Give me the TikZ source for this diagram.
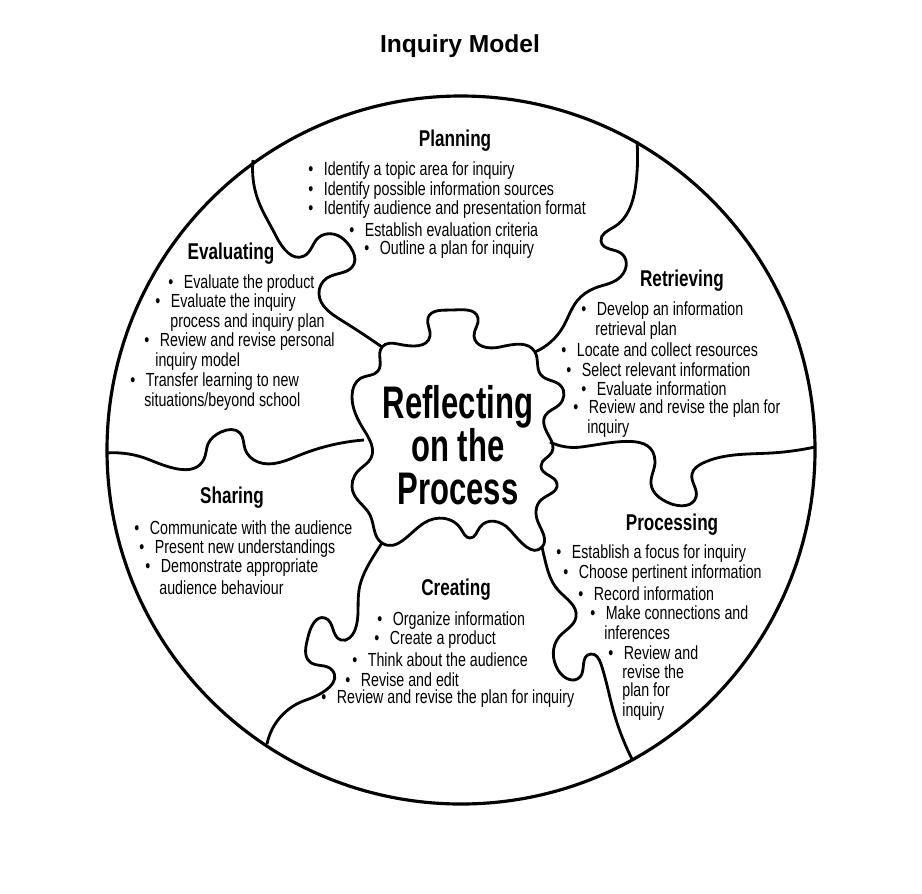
\documentclass[tikz,border=0pt]{standalone}
\usepackage{fontspec}
\setmainfont{Liberation Sans}
\newfontfamily\narrowfont[FakeStretch=0.75]{Liberation Sans}
\newfontfamily\bignarrow[FakeStretch=0.68]{Liberation Sans}
\usetikzlibrary{hobby}
\newcommand{\bul}{\textbullet\hspace{6pt}}
\tikzset{
	piece/.style={line width=1.6pt, black, use Hobby shortcut},
	item/.style={anchor=west, inner sep=0pt, font=\narrowfont\fontsize{10.8}{12}\selectfont},
	heading/.style={inner sep=0pt, font=\narrowfont\bfseries\fontsize{13}{14}\selectfont}
}
\begin{document}
\begin{tikzpicture}[x=0.02cm, y=-0.02cm]
		\useasboundingbox (0,0) rectangle (922,893);
		\node[font=\bfseries\fontsize{14}{16}\selectfont] (title) at (460,46) {Inquiry Model};
		\draw[line width=1.8pt] (461,450) circle[radius=354];
		% centre piece
		\draw[piece, closed] (382,347) .. (398,344) .. (430,336) .. (428,318) .. (452,310) .. (478,318) .. (474,336) .. (500,347) .. (535,352) .. (541,375) .. (561,386) .. (559,405) .. (545,416) .. (550,438) .. (552,452) .. (541,466) .. (557,484) .. (541,500) .. (538,522) .. (542,547) .. (510,530) .. (480,527) .. (470,538) .. (461,529) .. (424,523) .. (382,543) .. (370,515) .. (353,492) .. (358,471) .. (371,458) .. (364,430) .. (352,396) .. (361,378) .. (378,371);
		\node[font=\bignarrow\bfseries\fontsize{26}{24.5}\selectfont, align=center] (reflect) at (458,445) {Reflecting\\on the\\Process};
		% dividing lines
		\draw[piece] (253,160) .. (258,200) .. (276,236) .. (304,256) .. (318,238) .. (333,234) .. (351,248) .. (354,264) .. (327,278) .. (319,294) .. (341,320) .. (382,347);
		\draw[piece] (637,141) .. (636,183) .. (614,227) .. (601,241) .. (622,254) .. (618,279) .. (595,288) .. (577,301) .. (563,327) .. (535,352);
		\draw[piece] (106,453) .. (150,460) .. (204,459) .. (208,444) .. (221,432) .. (240,433) .. (245,449) .. (258,462) .. (300,455) .. (364,440);
		\draw[piece] (550,442) .. (581,447) .. (655,461) .. (651,484) .. (669,503) .. (696,497) .. (692,474) .. (703,463) .. (771,453) .. (815,447);
		\draw[piece] (542,547) .. (545,560) .. (558,590) .. (576,617) .. (559,637) .. (558,670) .. (580,677) .. (591,654) .. (601,664) .. (614,713) .. (632,759);
		\draw[piece] (382,543) .. (373,557) .. (359,590) .. (355,630) .. (341,640) .. (325,618) .. (308,637) .. (310,662) .. (332,670) .. (306,700) .. (267,744);
		% headings
		\foreach \x/\y/\t [count=\i] in {455/141/Planning, 231/254/Evaluating, 682/281/Retrieving, 232/498/Sharing, 672/525/Processing, 456/590/Creating}
			\node[heading] (h\i) at (\x,\y) {\t};
		% list items
		\foreach \x/\y/\t [count=\i] in {
			308/171/\bul Identify a topic area for inquiry,
			308/191/\bul Identify possible information sources,
			308/210/\bul Identify audience and presentation format,
			349/230/\bul Establish evaluation criteria,
			364/250/\bul Outline a plan for inquiry,
			168/284/\bul Evaluate the product,
			155/303/\bul Evaluate the inquiry,
			170/323/process and inquiry plan,
			144/342/\bul Review and revise personal,
			155/362/inquiry model,
			130/382/\bul Transfer learning to new,
			144/402/{situations/beyond school},
			581/311/\bul Develop an information,
			595/331/retrieval plan,
			561/350/\bul Locate and collect resources,
			566/370/\bul Select relevant information,
			581/389/\bul Evaluate information,
			573/409/\bul Review and revise the plan for,
			587/429/inquiry,
			134/528/\bul Communicate with the audience,
			139/549/\bul Present new understandings,
			145/568/\bul Demonstrate appropriate,
			159/588/audience behaviour,
			556/554/\bul Establish a focus for inquiry,
			563/574/\bul Choose pertinent information,
			578/594/\bul Record information,
			590/613/\bul Make connections and,
			604/633/inferences,
			608/653/\bul Review and,
			622/672/revise the,
			622/692/plan for,
			622/712/inquiry,
			377/621/\bul Organize information,
			374/640/\bul Create a product,
			352/660/\bul Think about the audience,
			345/680/\bul Revise and edit,
			321/699/\bul Review and revise the plan for inquiry}
			\node[item] (t\i) at (\x,\y) {\t};
	\end{tikzpicture}
\end{document}
